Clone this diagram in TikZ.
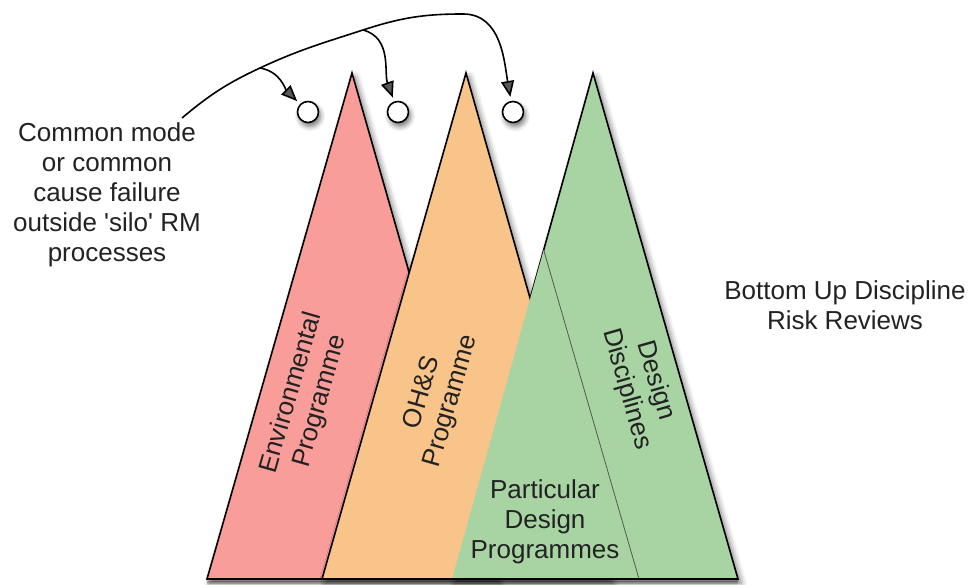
\documentclass[tikz,border=0pt]{standalone}
\usepackage{fontspec}
\setmainfont{Liberation Sans}
\usetikzlibrary{arrows.meta,shadows.blur,positioning,calc}
\definecolor{envred}{RGB}{249,157,154}
\definecolor{ohsorange}{RGB}{248,196,138}
\definecolor{desgreen}{RGB}{168,212,164}
\definecolor{txtgray}{RGB}{34,34,34}
\begin{document}
\begin{tikzpicture}[x=1pt,y=1pt,>={Stealth[length=16pt,width=13pt,inset=0pt]},
	silo/.style={draw=black,line width=1.6pt,line join=miter,
		blur shadow={shadow xshift=3pt,shadow yshift=-4pt,shadow blur radius=6pt,shadow opacity=55}},
	hole/.style={circle,draw=black,line width=1.6pt,fill=white,minimum size=21pt,inner sep=0pt,
		blur shadow={shadow xshift=2pt,shadow yshift=-4pt,shadow blur radius=5pt,shadow opacity=55}},
	lbl/.style={font=\fontsize{26}{30}\selectfont,text=txtgray,align=center,inner sep=0pt},
	link/.style={->,line width=1.6pt,shorten >=4pt}]
\useasboundingbox (0,0) rectangle (973,585);

% apexes and bases of the silos
\coordinate (redtop) at (352,512);
\coordinate (ohstop) at (466,512);
\coordinate (destop) at (593,512);
\coordinate (partop) at (543.7,335);

\path[silo,fill=envred]    (redtop) -- (497,6) -- (207,6) -- cycle;
\path[silo,fill=desgreen]  (destop) -- (738,6) -- (452,6) -- cycle;
\path[silo,fill=ohsorange] (ohstop) -- (610,6) -- (322,6) -- cycle;
\fill[desgreen] (partop) -- (639,6) -- (452,6) -- cycle;
\draw[line width=0.8pt,draw=black!55!desgreen] (partop) -- (639,6);
\draw[line width=2.6pt,blur shadow={shadow xshift=0pt,shadow yshift=-3pt,shadow blur radius=3pt,shadow opacity=70}] (207,6) -- (738,6);

% labels
\node[lbl,rotate=74]  (env)  at (306,188) {Environmental\\Programme};
\node[lbl,rotate=74]  (ohs)  at (437,188) {OH\&S\\Programme};
\node[lbl,rotate=-74] (disc) at (641,200) {Design\\Disciplines};
\node[lbl] (part)   at (545,63)  {Particular\\Design\\Programmes};
\node[lbl] (bottom) at (845,280) {Bottom Up Discipline\\Risk Reviews};
\node[lbl] (cause)  at (107,390) {Common mode\\or common\\cause failure\\outside \textquotesingle silo\textquotesingle\ RM\\processes};

% failure points
\node[hole] (c1) at (308,473) {};
\node[hole] (c2) at (398,473) {};
\node[hole] (c3) at (513,473) {};

\coordinate (src)  at (182,467);
\coordinate (b1)   at (260,517);
\coordinate (b2)   at (363,555);
\coordinate (peak) at (463,571);

\draw[line width=1.6pt] (src) to[out=40,in=205] (b1) to[out=25,in=198] (b2) to[out=18,in=180] (peak);
\draw[link] (peak) to[out=0,in=100] (c3);
\draw[link] (b1) to[out=-10,in=135] (c1);
\draw[link] (b2) to[out=-15,in=110] (c2);
\end{tikzpicture}
\end{document}
